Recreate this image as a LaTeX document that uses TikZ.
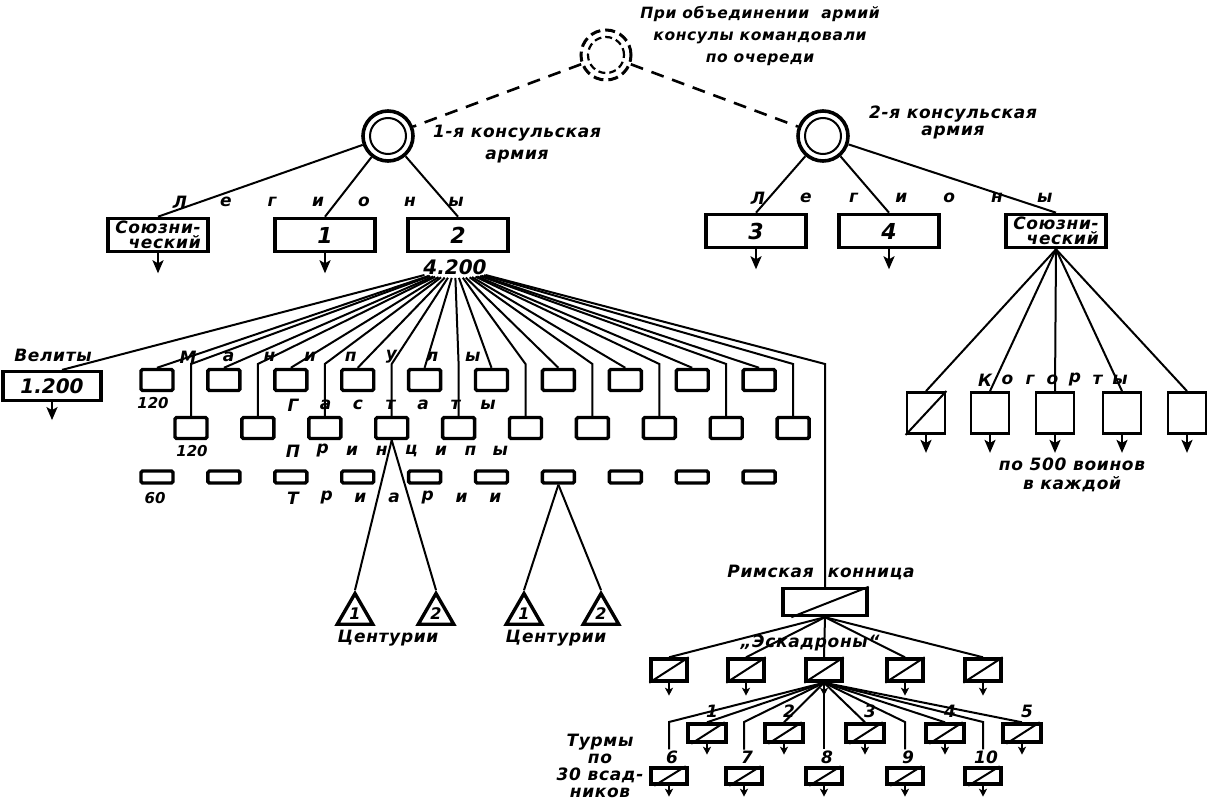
\documentclass[tikz,border=0pt]{standalone}
\usepackage{fontspec}
\newfontfamily\schemefont[LetterSpace=4]{DejaVu Sans}
\newfontfamily\numfont{DejaVu Sans}
\usetikzlibrary{arrows.meta,positioning,shapes.geometric,calc}

\begin{document}
\begin{tikzpicture}[
    x=1pt, y=-1pt,
    font=\schemefont\bfseries\itshape\fontsize{17}{19}\selectfont,
    army/.style={circle, draw, line width=3.6pt, minimum size=50pt, inner sep=0pt},
    joint/.style={circle, draw, line width=3pt, dash pattern=on 10pt off 5pt, minimum size=50pt, inner sep=0pt},
    legion/.style={rectangle, draw, line width=3.6pt, minimum width=100pt, minimum height=33pt, inner sep=1pt, align=right},
    maniple/.style={rectangle, draw, line width=3.4pt, rounded corners=1.5pt, minimum width=32pt, minimum height=21pt, inner sep=0pt},
    triarius/.style={maniple, minimum height=12pt},
    cohort/.style={rectangle, draw, line width=2.8pt, minimum width=38pt, minimum height=41pt, inner sep=0pt},
    century/.style={regular polygon, regular polygon sides=3, draw, line width=3.4pt, minimum size=41pt, inner sep=0pt, font=\numfont\bfseries\itshape\fontsize{16}{16}\selectfont},
    squadron/.style={rectangle, draw, line width=3.4pt, minimum width=36pt, minimum height=22pt, inner sep=0pt},
    turma/.style={squadron, minimum width=36pt, minimum height=16pt},
    note/.style={align=center, inner sep=1pt},
    num/.style={font=\numfont\bfseries\itshape\fontsize{20}{20}\selectfont},
    bignum/.style={font=\numfont\bfseries\itshape\fontsize{22}{22}\selectfont},
    tnum/.style={font=\numfont\bfseries\itshape\fontsize{17}{17}\selectfont, inner sep=1pt},
    qty/.style={font=\numfont\bfseries\itshape\fontsize{15}{15}\selectfont},
    link/.style={line width=2pt},
    dashlink/.style={line width=2.6pt, dash pattern=on 13pt off 9pt},
    arrow/.style={-{Stealth[length=13pt, width=11pt, inset=3pt]}, line width=2.2pt},
    tick/.style={-{Stealth[length=8pt, width=8pt, inset=2pt]}, line width=2pt}
]
    \path[fill=white] (0,0) rectangle (1210,805);
    \useasboundingbox (0,0) rectangle (1210,805);

    % Consuls
    \node[joint] (joint) at (606,55) {};
    \draw[line width=2.2pt, dash pattern=on 7pt off 4pt] (joint.center) circle[radius=18pt];
    \node[note, font=\schemefont\bfseries\itshape\fontsize{15.5}{17}\selectfont] (jointtxt) at (760,36) {При объединении\ \ армий\\[5pt]консулы командовали\\[5pt]по очереди};
    \node[army] (army1) at (388,136) {};
    \node[army] (army2) at (823,136) {};
    \draw[line width=2pt] (army1.center) circle[radius=18pt];
    \draw[line width=2pt] (army2.center) circle[radius=18pt];
    \node[note] (army1txt) at (517,144) {1-я консульская\\[3pt]армия};
    \node[note] (army2txt) at (953,122) {2-я консульская\\[-2pt]армия};
    \draw[dashlink] (joint) -- (army1);
    \draw[dashlink] (joint) -- (army2);

    % Legions
    \node[legion] (leg1s) at (158,235) {Союзни-\\[-4pt]ческий};
    \node[legion, bignum] (leg1) at (325,235) {1};
    \node[legion, bignum] (leg2) at (458,235) {2};
    \node[legion, bignum] (leg3) at (756,231) {3};
    \node[legion, bignum] (leg4) at (889,231) {4};
    \node[legion] (leg2s) at (1056,231) {Союзни-\\[-4pt]ческий};
    \foreach \ch [count=\i] in {Л,е,г,и,о,н,ы} {
        \node (lega\i) at ({180+46*(\i-1)},202) {\ch};
        \node (legb\i) at ({758+47.8*(\i-1)},198) {\ch};
    }
    \draw[link] (army1) -- (leg1s.north);
    \draw[link] (army1) -- (leg1.north);
    \draw[link] (army1) -- (leg2.north);
    \draw[link] (army2) -- (leg3.north);
    \draw[link] (army2) -- (leg4.north);
    \draw[link] (army2) -- (leg2s.north);
    \foreach \n in {leg1s,leg1,leg3,leg4} {
        \coordinate[below=20pt of \n] (\n-out);
        \draw[arrow] (\n) -- (\n-out);
    }

    % Maniples
    \node[num, ellipse, inner sep=0pt] (leg2n) at (455,267) {4.200};
    \coordinate (bend) at (0,364);
    \foreach \i in {1,...,10} {
        \node[maniple] (has\i) at ({157+66.9*(\i-1)},380) {};
        \node[maniple] (pri\i) at ({191+66.9*(\i-1)},428) {};
        \node[triarius] (tri\i) at ({157+66.9*(\i-1)},477) {};
        \draw[link] (leg2n) -- (has\i.north);
        \draw[link] (leg2n) -- (pri\i.north |- bend) -- (pri\i.north);
    }
    \foreach \ch [count=\i] in {М,а,н,и,п,у,л,ы}
        \node (manl\i) at ({188+40.7*(\i-1)},357) {\ch};
    \foreach \ch [count=\i] in {Г,а,с,т,а,т,ы}
        \node (hasl\i) at ({293+32.5*(\i-1)},405) {\ch};
    \foreach \ch [count=\i] in {П,р,и,н,ц,и,п,ы}
        \node (pril\i) at ({293+29.6*(\i-1)},451) {\ch};
    \foreach \ch [count=\i] in {Т,р,и,а,р,и,и}
        \node (tril\i) at ({293+33.7*(\i-1)},498) {\ch};
    \node[qty] (hasn) at (153,403) {120};
    \node[qty] (prin) at (192,451) {120};
    \node[qty] (trin) at (155,498) {60};

    % Velites
    \node[legion, num, line width=3.2pt, minimum width=98pt, minimum height=29pt] (vel) at (52,386) {1.200};
    \node (veltxt) at (53,355) {Велиты};
    \draw[link] (leg2n) -- ([xshift=10pt]vel.north);
    \coordinate[below=18pt of vel] (vel-out);
    \draw[arrow] (vel) -- (vel-out);

    % Centuries
    \node[century] (cen1) at (355,614) {1};
    \node[century] (cen2) at (436,614) {2};
    \node[century] (cen3) at (524,614) {1};
    \node[century] (cen4) at (601,614) {2};
    \draw[link] (pri4.south) -- (cen1.north);
    \draw[link] (pri4.south) -- (cen2.north);
    \draw[link] (tri7.south) -- (cen3.north);
    \draw[link] (tri7.south) -- (cen4.north);
    \node (cena) at (388,638) {Центурии};
    \node (cenb) at (556,638) {Центурии};

    % Cavalry
    \node[squadron, minimum width=84pt, minimum height=27pt] (cav) at (825,602) {};
    \draw[link] ([xshift=10pt]cav.south west) -- (cav.north east);
    \draw[link] (leg2n) -- (cav.north |- bend) -- (cav.north);
    \node (cavtxt) at (821,572) {Римская\hspace{14pt}конница};
    \node (sqtxt) at (810,643) {„Эскадроны“};
    \foreach \x [count=\i] in {669,746,824,905,983} {
        \node[squadron] (sq\i) at (\x,670) {};
        \draw[link] (sq\i.south west) -- (sq\i.north east);
        \draw[link] (cav.south) -- (sq\i.north);
        \coordinate[below=13pt of sq\i] (sq\i-out);
        \draw[tick] (sq\i) -- (sq\i-out);
    }

    % Turmae
    \coordinate (tbend) at (0,722);
    \foreach \x [count=\i] in {707,784,865,945,1022} {
        \node[turma, minimum width=38pt, minimum height=18pt] (tur\i) at (\x,733) {};
        \node[tnum] (tnum\i) at ({\x+5},711) {\i};
        \draw[link] (sq3.south) -- (tur\i.north);
    }
    \foreach \x [count=\i from 6] in {669,744,824,905,983} {
        \node[turma] (tur\i) at (\x,776) {};
        \node[tnum] (tnum\i) at ({\x+3},757) {\i};
        \draw[link] (sq3.south) -- (tur\i.north |- tbend) -- (tur\i.north |- tnum\i.north);
    }
    \foreach \i in {1,...,10} {
        \draw[link] ([xshift=5pt]tur\i.south west) -- ([xshift=-3pt]tur\i.north east);
        \coordinate[below=11pt of tur\i] (tur\i-out);
        \draw[tick] (tur\i) -- (tur\i-out);
    }
    \node[note] (turtxt) at (600,766) {Турмы\\[-2pt]по\\[-2pt]30 всад-\\[-2pt]ников};

    % Cohorts
    \foreach \x [count=\i] in {926,990,1055,1122,1187} {
        \node[cohort] (coh\i) at (\x,413) {};
        \draw[link] (leg2s.south) -- (coh\i.north);
        \coordinate[below=18pt of coh\i] (coh\i-out);
        \draw[arrow] (coh\i) -- (coh\i-out);
    }
    \draw[link] (coh1.south west) -- (coh1.north east);
    \foreach \ch [count=\i] in {К,о,г,о,р,т,ы}
        \node (cohl\i) at ({985+22.5*(\i-1)},380) {\ch};
    \node[note] (cohtxt) at (1072,475) {по 500 воинов\\в каждой};
\end{tikzpicture}
\end{document}
